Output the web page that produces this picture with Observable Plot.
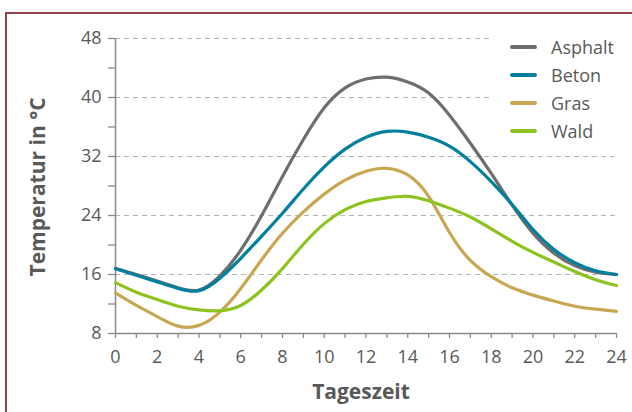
<!DOCTYPE html>
<html>
<head>
<meta charset="utf-8">
<script src="https://cdn.jsdelivr.net/npm/d3@7"></script>
<script src="https://cdn.jsdelivr.net/npm/@observablehq/plot@0.6"></script>
<style>
  html, body { margin: 0; padding: 0; background: #fff; }
  #wrap { position: relative; width: 632px; height: 412px; overflow: hidden; font-family: 'Open Sans', sans-serif; color: #595959; }
  #frame { position: absolute; left: 5px; top: 12px; width: 700px; height: 500px; border: 2px solid #934349; box-sizing: border-box; }
  #chart { position: absolute; left: 0; top: 0; }
  .ytitle { position: absolute; left: 37px; top: 187px; transform: translate(-50%, -50%) rotate(-90deg); white-space: nowrap; font-weight: 700; font-size: 21px; }
  .xtitle { position: absolute; left: 361px; top: 391px; transform: translate(-50%, -50%); white-space: nowrap; font-weight: 700; font-size: 21px; }
  #legend { position: absolute; left: 490px; top: 33px; width: 142px; padding: 0 0 4px 20px; background: #fff; box-sizing: border-box; }
  .item { display: flex; align-items: center; height: 28px; font-size: 18px; }
  .swatch { width: 27px; height: 4px; border-radius: 2px; margin-right: 14px; }
</style>
</head>
<body>
<div id="wrap">
  <div id="frame"></div>
  <div id="chart"></div>
  <div class="ytitle">Temperatur in °C</div>
  <div class="xtitle">Tageszeit</div>
  <div id="legend"></div>
</div>
<script>
const hours = [0,1,2,3,4,5,6,7,8,9,10,11,12,13,14,15,16,17,18,19,20,21,22,23,24];
const seriesNames = ["Asphalt", "Beton", "Gras", "Wald"];
const seriesColors = ["#6e6e6e", "#00809e", "#c9a752", "#8cc31e"];
const asphalt = [16.8,16.0,15.1,14.2,13.9,15.8,19.3,24.0,29.3,34.3,38.6,41.3,42.5,42.75,42.1,40.6,37.6,33.8,29.7,25.4,21.6,18.9,17.2,16.3,16.0];
const beton   = [16.8,15.9,15.0,14.1,13.8,15.5,18.2,21.2,24.3,27.6,30.6,33.0,34.6,35.4,35.3,34.6,33.4,31.3,28.6,25.5,22.1,19.4,17.6,16.5,16.0];
const gras    = [13.5,11.8,10.3,9.0,9.1,10.9,14.1,18.0,21.6,24.5,26.9,28.8,30.0,30.4,29.5,26.6,21.7,17.9,15.7,14.2,13.2,12.4,11.7,11.3,11.0];
const wald    = [14.9,13.6,12.6,11.7,11.2,11.1,11.8,13.9,16.8,20.1,22.9,24.8,25.9,26.4,26.6,26.0,25.0,23.8,22.2,20.5,19.0,17.7,16.4,15.3,14.5];
const xTicks = [0,1,2,3,4,5,6,7,8,9,10,11,12,13,14,15,16,17,18,19,20,21,22,23,24];
const xTickLabels = ["0","","2","","4","","6","","8","","10","","12","","14","","16","","18","","20","","22","","24"];
const yTicks = [8,12,16,20,24,28,32,36,40,44,48];
const yTickLabels = ["8","","16","","24","","32","","40","","48"];
const gridValues = [16,24,32,40,48];

const allValues = [asphalt, beton, gras, wald];
const data = seriesNames.flatMap((name, i) => hours.map((h, j) => ({hour: h, temp: allValues[i][j], series: name})));

const chart = Plot.plot({
  width: 632,
  height: 412,
  marginLeft: 115,
  marginRight: 16,
  marginTop: 38,
  marginBottom: 79,
  style: {fontFamily: "'Open Sans', sans-serif", fontSize: "18px", color: "#595959", background: "transparent"},
  x: {domain: [0, 24]},
  y: {domain: [8, 48]},
  color: {domain: seriesNames, range: seriesColors},
  marks: [
    Plot.gridY(gridValues, {stroke: "#b4b4b4", strokeOpacity: 1, strokeWidth: 1.2, strokeDasharray: "5,4"}),
    Plot.axisX({ticks: xTicks, tickSize: 5, tickPadding: 12, tickFormat: d => xTickLabels[xTicks.indexOf(d)], label: null, stroke: "#8a8a8a", fill: "#595959", strokeWidth: 1.3}),
    Plot.axisY({ticks: yTicks, tickSize: 7, tickPadding: 7, tickFormat: d => yTickLabels[yTicks.indexOf(d)], label: null, stroke: "#8a8a8a", fill: "#595959", strokeWidth: 1.3}),
    Plot.ruleX([0], {stroke: "#8a8a8a", strokeWidth: 1.5}),
    Plot.ruleY([8], {stroke: "#8a8a8a", strokeWidth: 1.5}),
    Plot.line(data, {x: "hour", y: "temp", z: "series", stroke: "series", strokeWidth: 3.2, curve: "natural"})
  ]
});
document.getElementById("chart").appendChild(chart);

const legend = document.getElementById("legend");
seriesNames.forEach((name, i) => {
  const item = document.createElement("div");
  item.className = "item";
  const sw = document.createElement("span");
  sw.className = "swatch";
  sw.style.background = seriesColors[i];
  const label = document.createElement("span");
  label.textContent = name;
  item.appendChild(sw);
  item.appendChild(label);
  legend.appendChild(item);
});
</script>
</body>
</html>
